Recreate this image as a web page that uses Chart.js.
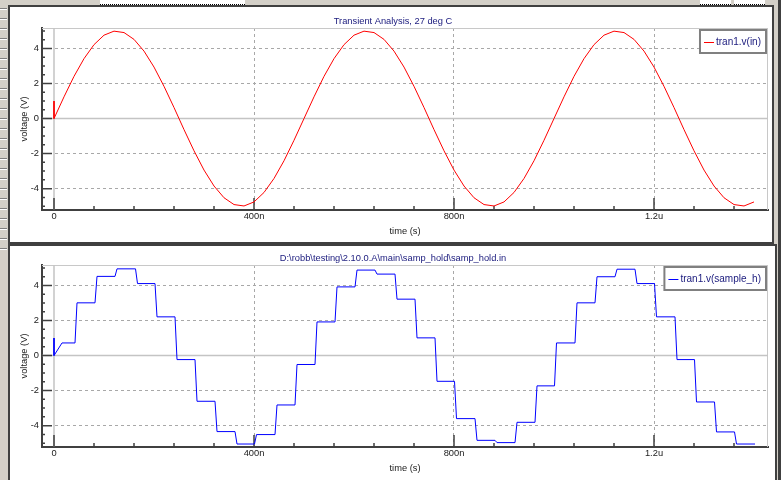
<!DOCTYPE html>
<html>
<head>
<meta charset="utf-8">
<script src="https://cdn.jsdelivr.net/npm/chart.js@4/dist/chart.umd.min.js"></script>
<style>
  html, body { margin: 0; padding: 0; }
  body { width: 781px; height: 480px; background: #d4d0c8; position: relative; overflow: hidden; }
  .rows { position: absolute; left: 0; top: 0; width: 7px; height: 250px;
    background: repeating-linear-gradient(to bottom, #d4d0c8 0, #d4d0c8 8px, #808080 8px, #808080 9px, #ffffff 9px, #ffffff 10px); }
  .topbox { position: absolute; top: 0; height: 4px; background: #fff; border-bottom: 1px dotted #000; }
  .edge { position: absolute; right: 0; top: 0; width: 3px; height: 480px; background: #404040; }
  .panel { position: absolute; box-sizing: border-box; border: 2px solid #404040; background: #fff; }
  #p1 { left: 8px; top: 5px; width: 766px; height: 239px; }
  #p2 { left: 8px; top: 244px; width: 769px; height: 240px; }
  canvas { position: absolute; left: 10px; }
  #c1 { top: 8px; }
  #c2 { top: 245px; }
</style>
</head>
<body>
<div class="rows"></div>
<div class="topbox" style="left:100px;width:145px"></div>
<div class="topbox" style="left:700px;width:31px"></div>
<div class="topbox" style="left:734px;width:31px"></div>
<div class="edge"></div>
<div class="panel" id="p1"></div>
<div class="panel" id="p2"></div>
<canvas id="c1" width="766" height="234"></canvas>
<canvas id="c2" width="766" height="234"></canvas>
<script>
// time in ns, voltage in V
const vinTimes = [0, 0, 20, 40, 60, 80, 100, 120, 140, 160, 180, 200, 220, 240, 260, 280, 300, 320, 340, 360, 380, 400,
  420, 440, 460, 480, 500, 520, 540, 560, 580, 600, 620, 640, 660, 680, 700, 720, 740, 760, 780, 800,
  820, 840, 860, 880, 900, 920, 940, 960, 980, 1000, 1020, 1040, 1060, 1080, 1100, 1120, 1140, 1160, 1180, 1200,
  1220, 1240, 1260, 1280, 1300, 1320, 1340, 1360, 1380, 1400];
const vinVolts = [1.0, 0, 1.24, 2.41, 3.42, 4.22, 4.76, 4.99, 4.91, 4.52, 3.85, 2.94, 1.84, 0.63, -0.63, -1.84, -2.94, -3.85, -4.52, -4.91, -4.99, -4.76,
  -4.22, -3.42, -2.41, -1.24, 0, 1.24, 2.41, 3.42, 4.22, 4.76, 4.99, 4.91, 4.52, 3.85, 2.94, 1.84, 0.63, -0.63, -1.84, -2.94,
  -3.85, -4.52, -4.91, -4.99, -4.76, -4.22, -3.42, -2.41, -1.24, 0, 1.24, 2.41, 3.42, 4.22, 4.76, 4.99, 4.91, 4.52, 3.85, 2.94,
  1.84, 0.63, -0.63, -1.84, -2.94, -3.85, -4.52, -4.91, -4.99, -4.76];

const shTimes = [0, 0, 16, 42, 46, 82, 86, 122, 126, 163, 167, 202, 206, 242, 246, 282, 286, 322, 326, 362, 366, 401,
  405, 442, 446, 482, 486, 522, 526, 562, 566, 602, 606, 642, 646, 682, 686, 722, 726, 762, 766, 801,
  805, 842, 846, 882, 886, 922, 926, 962, 966, 1001, 1005, 1042, 1046, 1082, 1086, 1122, 1126, 1162, 1166, 1201,
  1205, 1242, 1246, 1281, 1285, 1321, 1325, 1361, 1365, 1402];
const shVolts = [1.0, 0, 0.72, 0.72, 3.01, 3.01, 4.52, 4.52, 4.95, 4.95, 4.11, 4.11, 2.21, 2.21, -0.23, -0.23, -2.61, -2.61, -4.34, -4.34, -5.05, -5.05,
  -4.51, -4.51, -2.82, -2.82, -0.51, -0.51, 1.92, 1.92, 3.92, 3.92, 4.88, 4.88, 4.65, 4.65, 3.22, 3.22, 1.01, 1.01, -1.47, -1.47,
  -3.60, -3.60, -4.84, -4.84, -4.97, -4.97, -3.81, -3.81, -1.73, -1.73, 0.72, 0.72, 3.01, 3.01, 4.50, 4.50, 4.93, 4.93, 4.11, 4.11,
  2.21, 2.21, -0.23, -0.23, -2.65, -2.65, -4.36, -4.36, -5.05, -5.05];

const xTickValues = [0, 400, 800, 1200];
const xTickLabels = ['0', '400n', '800n', '1.2u'];
const yTickValues = [-4, -2, 0, 2, 4];
const yTickLabels = ['-4', '-2', '0', '2', '4'];

const FONT = '"Liberation Sans", Arial, sans-serif';
const INK = '#202020';
const NAVY = '#202080';

Chart.defaults.font.family = FONT;
Chart.defaults.color = INK;

// scope look: solid zero lines, frame, inward ticks, title and legend box
const scopePlugin = {
  id: 'scope',
  beforeDatasetsDraw(chart) {
    const { ctx, chartArea: a, scales: { x, y } } = chart;
    ctx.save();
    ctx.lineWidth = 1;
    ctx.strokeStyle = '#c8c8c8';
    ctx.beginPath();
    ctx.moveTo(a.left, a.top + 0.5); ctx.lineTo(a.right, a.top + 0.5);
    ctx.moveTo(a.right - 0.5, a.top); ctx.lineTo(a.right - 0.5, a.bottom);
    ctx.stroke();

    ctx.lineWidth = 1.5;
    ctx.strokeStyle = '#c4c4c4';
    const x0 = x.getPixelForValue(0), y0 = y.getPixelForValue(0);
    ctx.beginPath();
    ctx.moveTo(x0, a.top); ctx.lineTo(x0, a.bottom);
    ctx.moveTo(a.left, y0); ctx.lineTo(a.right, y0);
    ctx.stroke();

    ctx.strokeStyle = '#404040';
    ctx.beginPath();
    for (let v = -5; v <= 5; v += 0.5) {
      const py = y.getPixelForValue(v);
      const len = yTickValues.includes(v) ? 10 : 3;
      ctx.moveTo(a.left, py); ctx.lineTo(a.left + len, py);
    }
    for (let v = 0; v <= x.max; v += 80) {
      const px = x.getPixelForValue(v);
      const len = xTickValues.includes(v) ? 12 : 4;
      ctx.moveTo(px, a.bottom); ctx.lineTo(px, a.bottom - len);
    }
    ctx.stroke();
    ctx.restore();
  },
  afterDraw(chart, args, opts) {
    const { ctx, chartArea: a } = chart;
    const ds = chart.data.datasets[0];
    ctx.save();
    ctx.font = '9.3px ' + FONT;
    ctx.fillStyle = NAVY;
    ctx.textAlign = 'center';
    ctx.textBaseline = 'middle';
    ctx.fillText(opts.title, chart.width / 2, 13);

    ctx.font = '10px ' + FONT;
    ctx.textAlign = 'left';
    const tw = ctx.measureText(ds.label).width;
    const w = tw + 23, h = 25;
    const bx = a.right - 1 - w, by = a.top + 1;
    ctx.fillStyle = '#ffffff';
    ctx.fillRect(bx, by, w, h);
    ctx.strokeStyle = '#808080';
    ctx.lineWidth = 2;
    ctx.strokeRect(bx + 1, by + 1, w - 2, h - 2);
    const cy = Math.round(by + h / 2) + 0.5;
    ctx.strokeStyle = ds.borderColor;
    ctx.lineWidth = 1;
    ctx.beginPath();
    ctx.moveTo(bx + 5, cy); ctx.lineTo(bx + 15, cy);
    ctx.stroke();
    ctx.fillStyle = NAVY;
    ctx.fillText(ds.label, bx + 17, cy);
    ctx.restore();
  }
};

function makeChart(id, title, label, color, times, volts) {
  return new Chart(document.getElementById(id), {
    type: 'line',
    data: {
      datasets: [{
        label: label,
        data: times.map((t, i) => ({ x: t, y: volts[i] })),
        borderColor: color,
        borderWidth: 1,
        pointRadius: 0,
        tension: 0,
        fill: false
      }]
    },
    options: {
      responsive: false,
      animation: false,
      devicePixelRatio: 1,
      layout: { padding: { top: 20, right: 8, left: 0, bottom: 0 } },
      plugins: {
        legend: { display: false },
        title: { display: false },
        tooltip: { enabled: false },
        scope: { title: title }
      },
      scales: {
        x: {
          type: 'linear',
          min: -24,
          max: 1428,
          afterFit: s => { s.height = 32; },
          afterBuildTicks: s => { s.ticks = xTickValues.map(v => ({ value: v })); },
          ticks: {
            padding: 1,
            maxRotation: 0,
            font: { size: 9.3 },
            color: INK,
            callback: v => xTickLabels[xTickValues.indexOf(v)]
          },
          grid: {
            drawTicks: false,
            color: c => (c.tick && c.tick.value === 0) ? 'rgba(0,0,0,0)' : '#a8a8a8'
          },
          border: { display: true, color: '#404040', width: 2, dash: [3, 3] },
          title: { display: true, text: 'time (s)', font: { size: 9.3 }, color: INK, padding: { top: 0, bottom: 5.4 } }
        },
        y: {
          min: -5.22,
          max: 5.17,
          afterFit: s => { s.width = 32; },
          afterBuildTicks: s => { s.ticks = yTickValues.map(v => ({ value: v })); },
          ticks: {
            padding: 3,
            font: { size: 9.3 },
            color: INK,
            callback: v => yTickLabels[yTickValues.indexOf(v)]
          },
          grid: {
            drawTicks: false,
            color: c => (c.tick && c.tick.value === 0) ? 'rgba(0,0,0,0)' : '#a8a8a8'
          },
          border: { display: true, color: '#404040', width: 2, dash: [3, 3] },
          title: { display: true, text: 'voltage (V)', font: { size: 9.3 }, color: INK, padding: { top: 8.4, bottom: 0 } }
        }
      }
    },
    plugins: [scopePlugin]
  });
}

makeChart('c1', 'Transient Analysis, 27 deg C', 'tran1.v(in)', '#ff0000', vinTimes, vinVolts);
makeChart('c2', 'D:\\robb\\testing\\2.10.0.A\\main\\samp_hold\\samp_hold.in', 'tran1.v(sample_h)', '#0000ff', shTimes, shVolts);
</script>
</body>
</html>
